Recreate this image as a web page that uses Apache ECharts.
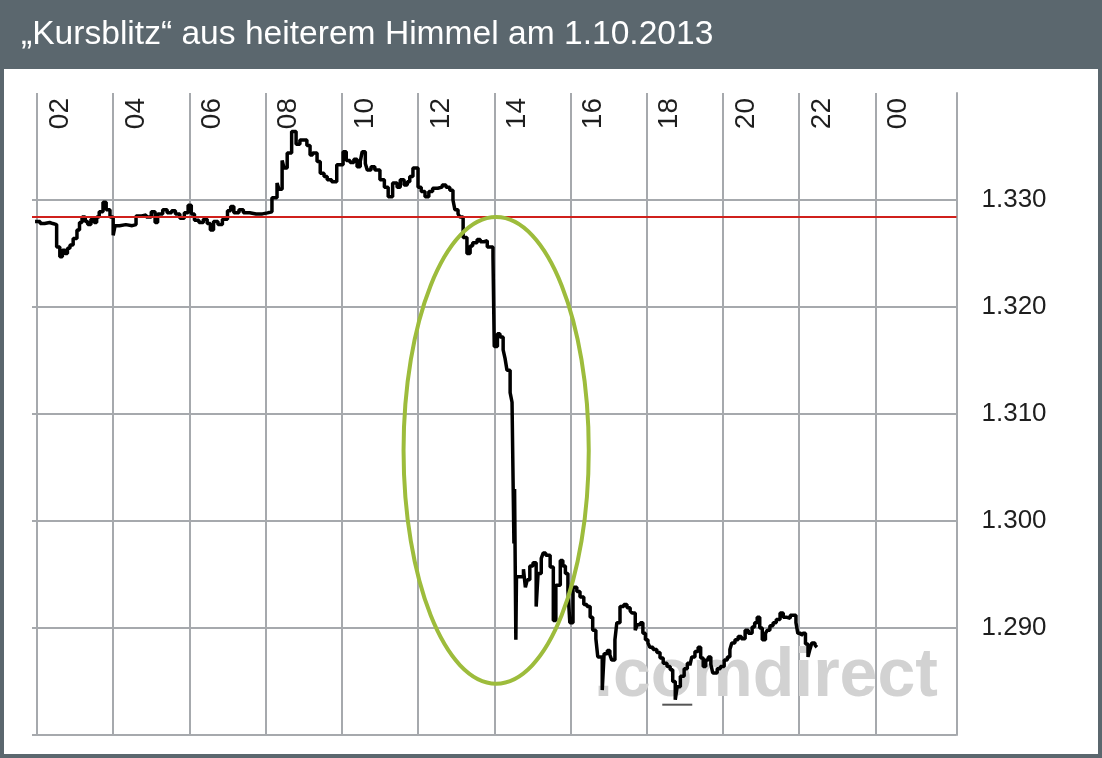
<!DOCTYPE html>
<html>
<head>
<meta charset="utf-8">
<script src="https://cdn.jsdelivr.net/npm/echarts@6/dist/echarts.min.js"></script>
<style>
  html, body { margin: 0; padding: 0; }
  #frame { position: relative; width: 1102px; height: 758px; background: #5b676e; overflow: hidden; }
  #inner { position: absolute; left: 4px; top: 69px; width: 1094px; height: 685px; background: #ffffff; }
  #chart { position: absolute; left: 0; top: 0; width: 1102px; height: 758px; }
</style>
</head>
<body>
<div id="frame"><div id="inner"></div><div id="chart"></div></div>
<script>
// ---------- texts ----------
const titleText = '„Kursblitz“ aus heiterem Himmel am 1.10.2013';
const watermarkText = '.comdirect';

// ---------- axes ----------
const hourTicks  = [2, 4, 6, 8, 10, 12, 14, 16, 18, 20, 22, 24];
const hourLabels = ['02', '04', '06', '08', '10', '12', '14', '16', '18', '20', '22', '00'];
const yTickValues = [1.29, 1.30, 1.31, 1.32, 1.33];
const yTickLabels = ['1.290', '1.300', '1.310', '1.320', '1.330'];

// ---------- EUR/USD ticks, 1.10.2013 ----------
const asiaSession = [
  ['01:57',1.3280],['02:05',1.3278],['02:12',1.3279],['02:20',1.3278],['02:25',1.3277],['02:31',1.3256],
  ['02:36',1.3247],['02:40',1.3253],['02:44',1.3250],['02:48',1.3255],['02:52',1.3258],['02:57',1.3264],
  ['03:03',1.3272],['03:07',1.3279],['03:11',1.3284],['03:16',1.3280],['03:20',1.3277],['03:25',1.3282],
  ['03:30',1.3279],['03:34',1.3284],['03:38',1.3289],['03:44',1.3298],['03:49',1.3291],['03:55',1.3284],
  ['04:00',1.3267],['04:03',1.3276],['04:10',1.3277],['04:20',1.3276],['04:30',1.3277],['04:36',1.3285],
  ['04:45',1.3286],['04:52',1.3284],['05:00',1.3289],['05:06',1.3279],['05:10',1.3287],['05:18',1.3291],
  ['05:25',1.3288],['05:32',1.3290],['05:38',1.3287],['05:45',1.3283],['05:52',1.3288],['05:58',1.3295],
  ['06:03',1.3287],['06:08',1.3281],['06:15',1.3279],['06:22',1.3282],['06:28',1.3278],['06:33',1.3272],
  ['06:38',1.3280],['06:45',1.3277],['06:52',1.3282],['07:00',1.3290],['07:05',1.3294],['07:10',1.3288],
  ['07:18',1.3291],['07:25',1.3288],['07:35',1.3287],['07:45',1.3287],['07:55',1.3288],['08:03',1.3289]
];
const europeSession = [
  ['08:10',1.3302],['08:18',1.3316],['08:21',1.3310],['08:26',1.3337],['08:29',1.3330],['08:34',1.3344],
  ['08:41',1.3364],['08:48',1.3352],['08:54',1.3356],['09:05',1.3351],['09:10',1.3342],['09:14',1.3344],
  ['09:21',1.3336],['09:26',1.3325],['09:32',1.3322],['09:37',1.3319],['09:44',1.3317],['09:52',1.3333],
  ['10:02',1.3345],['10:07',1.3337],['10:13',1.3335],['10:19',1.3338],['10:24',1.3331],['10:29',1.3336],
  ['10:32',1.3345],['10:37',1.3334],['10:40',1.3328],['10:46',1.3331],['10:52',1.3328],['11:00',1.3319],
  ['11:07',1.3312],['11:13',1.3303],['11:20',1.3316],['11:27',1.3312],['11:32',1.3319],['11:38',1.3314],
  ['11:43',1.3317],['11:47',1.3322],['11:52',1.3330],['12:00',1.3312],['12:05',1.3308],['12:11',1.3303],
  ['12:17',1.3308],['12:23',1.3311],['12:31',1.3312],['12:38',1.3314],['12:44',1.3312],['12:50',1.3309],
  ['12:55',1.3300],['12:58',1.3291],['13:03',1.3287],['13:06',1.3284],['13:11',1.3265],['13:17',1.3250],
  ['13:22',1.3257],['13:26',1.3260],['13:33',1.3263],['13:38',1.3261],['13:44',1.3262],['13:49',1.3256],
  ['13:58',1.3247]
];
const crashPhase = [
  ['14:00',1.3163],['14:05',1.3175],['14:09',1.3172],['14:14',1.3160],['14:17',1.3152],['14:20',1.3141],
  ['14:25',1.3120],['14:28',1.3111],['14:30',1.3022],['14:31',1.2979],['14:32',1.3030],['14:34',1.2889],
  ['14:35',1.2948],['14:41',1.2948],['14:46',1.2955],['14:49',1.2938],['14:52',1.2945],['14:56',1.2958],
  ['15:01',1.2961],['15:06',1.2920],['15:09',1.2951],['15:14',1.2965],['15:17',1.2970],['15:21',1.2968],
  ['15:28',1.2957],['15:33',1.2907],['15:37',1.2940],['15:44',1.2963],['15:48',1.2958],['15:52',1.2951],
  ['15:56',1.2935],['15:59',1.2905],['16:04',1.2938],['16:10',1.2934],['16:15',1.2929],['16:21',1.2922]
];
const usSession = [
  ['16:26',1.2920],['16:31',1.2910],['16:35',1.2898],['16:40',1.2890],['16:43',1.2873],['16:50',1.2842],
  ['16:53',1.2876],['16:58',1.2879],['17:02',1.2875],['17:05',1.2870],['17:10',1.2889],['17:13',1.2905],
  ['17:18',1.2920],['17:24',1.2922],['17:29',1.2919],['17:34',1.2916],['17:37',1.2914],['17:42',1.2898],
  ['17:45',1.2903],['17:50',1.2905],['17:54',1.2895],['17:58',1.2889],['18:02',1.2886],['18:05',1.2882],
  ['18:10',1.2880],['18:16',1.2877],['18:21',1.2872],['18:26',1.2867],['18:32',1.2864],['18:37',1.2861],
  ['18:41',1.2850],['18:45',1.2833],['18:48',1.2845],['18:53',1.2855],['18:59',1.2862],['19:04',1.2867],
  ['19:08',1.2865],['19:11',1.2873],['19:16',1.2878],['19:21',1.2882],['19:25',1.2872],['19:29',1.2864],
  ['19:33',1.2870],['19:37',1.2873],['19:41',1.2866],['19:44',1.2858],['19:51',1.2862],['19:56',1.2864],
  ['20:02',1.2870],['20:07',1.2873],['20:11',1.2880],['20:14',1.2886],['20:19',1.2889],['20:24',1.2892],
  ['20:29',1.2890],['20:35',1.2898],['20:40',1.2895],['20:46',1.2901],['20:50',1.2905],['20:54',1.2910],
  ['20:58',1.2900],['21:02',1.2889],['21:07',1.2895],['21:10',1.2898],['21:14',1.2902],['21:19',1.2905],
  ['21:24',1.2908],['21:30',1.2914],['21:35',1.2910],['21:41',1.2909],['21:46',1.2912],['21:50',1.2912],
  ['21:55',1.2905],['21:58',1.2895],['22:03',1.2893],['22:06',1.2895],['22:10',1.2885],['22:14',1.2873],
  ['22:17',1.2880],['22:20',1.2886],['22:25',1.2884],['22:28',1.2882]
];
const previousLevel = 1.3284;           // red reference line
// highlighted zone (data units): centre time / value and half extents
const zoneCentre = ['14:03', 1.3066];
const zoneHalfHours = 2.43;
const zoneHalfValue = 0.0218;

// axis extent (hours of the day)
const xMin = 1.87, xMax = 26.13;
const yMin = 1.28, yMax = 1.34, yStep = 0.01;

function toHours(t) { const p = t.split(':'); return +p[0] + (+p[1]) / 60; }
const series = [].concat(asiaSession, europeSession, crashPhase, usSession)
  .map(d => [toHours(d[0]), d[1]]);

const gridColor = '#a6a9ad';
const chart = echarts.init(document.getElementById('chart'), null, { renderer: 'canvas' });
chart.setOption({
  animation: false,
  title: {
    text: titleText, left: 16, top: 13,
    textStyle: { color: '#ffffff', fontSize: 33.6, fontWeight: 'normal', fontFamily: 'Liberation Sans' }
  },
  grid: { left: 32, right: 145.5, top: 93, bottom: 23 },
  xAxis: {
    type: 'value', position: 'top', min: xMin, max: xMax,
    axisLine: { show: false },
    axisTick: { show: false, customValues: hourTicks },
    axisLabel: {
      customValues: hourTicks, inside: true, rotate: -90, margin: 5,
      align: 'right', verticalAlign: 'top', padding: [9, 0, 0, 0],
      fontSize: 28, fontFamily: 'Liberation Sans', color: '#1e1e1e',
      formatter: v => hourLabels[hourTicks.indexOf(Math.round(v))]
    },
    splitLine: { show: true, lineStyle: { color: gridColor, width: 2 } }
  },
  yAxis: {
    type: 'value', position: 'right', min: yMin, max: yMax, interval: yStep,
    axisLine: { show: true, lineStyle: { color: gridColor, width: 2 } },
    axisTick: { show: false },
    axisLabel: {
      margin: 25, fontSize: 26, fontFamily: 'Liberation Sans', color: '#1e1e1e',
      padding: [0, 0, 8, 0],
      formatter: v => {
        const i = yTickValues.findIndex(t => Math.abs(t - v) < 1e-6);
        return i >= 0 ? yTickLabels[i] : '';
      }
    },
    splitLine: { show: true, showMaxLine: false, lineStyle: { color: gridColor, width: 2 } }
  },
  series: [{
    type: 'line', data: series, step: 'end', symbol: 'none', z: 3,
    lineStyle: { color: '#000000', width: 3.5 },
    markLine: {
      silent: true, symbol: 'none', precision: 4, label: { show: false },
      lineStyle: { color: '#d0201c', width: 2, type: 'solid' },
      data: [{ yAxis: previousLevel }]
    },
    markPoint: {
      silent: true, symbol: 'rect', symbolSize: [30, 2], symbolOffset: [2, 5],
      itemStyle: { color: '#555555' }, label: { show: false },
      data: [{ type: 'min' }]
    }
  }]
});

// highlighted zone, converted from data units to pixels
const cx = toHours(zoneCentre[0]);
const c  = chart.convertToPixel({ gridIndex: 0 }, [cx, zoneCentre[1]]);
const ex = chart.convertToPixel({ gridIndex: 0 }, [cx + zoneHalfHours, zoneCentre[1]]);
const ey = chart.convertToPixel({ gridIndex: 0 }, [cx, zoneCentre[1] + zoneHalfValue]);
chart.setOption({
  graphic: [
    {
      type: 'text', z: 0, silent: true,
      style: { text: watermarkText, x: 594, y: 677, verticalAlign: 'middle',
               font: 'bold 68px "Liberation Sans"', fill: '#d2d2d2' }
    },
    {
      type: 'ellipse', z: 10, silent: true,
      shape: { cx: c[0], cy: c[1], rx: ex[0] - c[0], ry: c[1] - ey[1] },
      style: { fill: 'none', stroke: '#9dbc3c', lineWidth: 4 }
    }
  ]
});
</script>
</body>
</html>
